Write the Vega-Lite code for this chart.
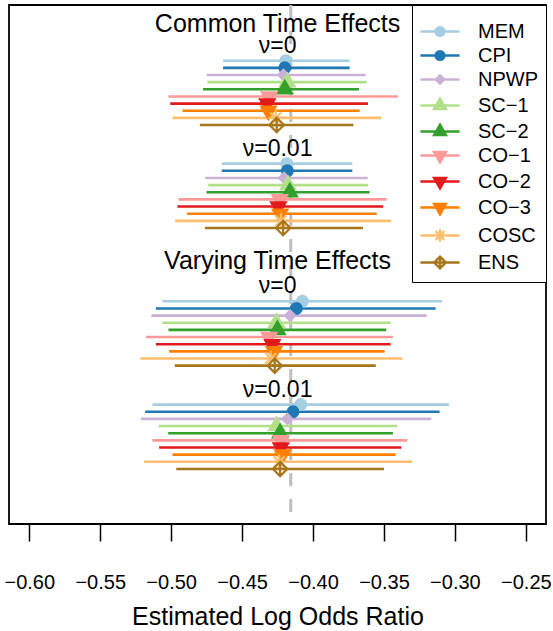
{
  "$schema": "https://vega.github.io/schema/vega-lite/v6.json",
  "width": 537,
  "height": 519,
  "autosize": {"type": "none"},
  "padding": {"left": 9, "top": 5, "right": 7, "bottom": 107},
  "config": {
    "font": "Liberation Sans",
    "view": {"stroke": "black", "strokeWidth": 1.8},
    "text": {"color": "black"}
  },
  "datasets": {
    "ref": [{"truth": -0.4157}],
    "est": [
      {"grp": "A", "method": "MEM", "row": 1, "est": -0.4192, "lo": -0.4634, "hi": -0.3742},
      {"grp": "A", "method": "CPI", "row": 2, "est": -0.4199, "lo": -0.4634, "hi": -0.3742},
      {"grp": "A", "method": "NPWP", "row": 3, "est": -0.4209, "lo": -0.4749, "hi": -0.3629},
      {"grp": "A", "method": "SC-1", "row": 4, "est": -0.4181, "lo": -0.4744, "hi": -0.3622},
      {"grp": "A", "method": "SC-2", "row": 5, "est": -0.4199, "lo": -0.4775, "hi": -0.3676},
      {"grp": "A", "method": "CO-1", "row": 6, "est": -0.4310, "lo": -0.5019, "hi": -0.3401},
      {"grp": "A", "method": "CO-2", "row": 7, "est": -0.4322, "lo": -0.5007, "hi": -0.3613},
      {"grp": "A", "method": "CO-3", "row": 8, "est": -0.4315, "lo": -0.4920, "hi": -0.3671},
      {"grp": "A", "method": "COSC", "row": 9, "est": -0.4263, "lo": -0.4991, "hi": -0.3519},
      {"grp": "A", "method": "ENS", "row": 10, "est": -0.4256, "lo": -0.4798, "hi": -0.3716},
      {"grp": "B", "method": "MEM", "row": 15.4, "est": -0.4185, "lo": -0.4643, "hi": -0.3723},
      {"grp": "B", "method": "CPI", "row": 16.4, "est": -0.4181, "lo": -0.4643, "hi": -0.3723},
      {"grp": "B", "method": "NPWP", "row": 17.4, "est": -0.4204, "lo": -0.4761, "hi": -0.3615},
      {"grp": "B", "method": "SC-1", "row": 18.4, "est": -0.4176, "lo": -0.4739, "hi": -0.3613},
      {"grp": "B", "method": "SC-2", "row": 19.4, "est": -0.4164, "lo": -0.4751, "hi": -0.3601},
      {"grp": "B", "method": "CO-1", "row": 20.4, "est": -0.4235, "lo": -0.4949, "hi": -0.3481},
      {"grp": "B", "method": "CO-2", "row": 21.4, "est": -0.4244, "lo": -0.4956, "hi": -0.3505},
      {"grp": "B", "method": "CO-3", "row": 22.4, "est": -0.4232, "lo": -0.4889, "hi": -0.3551},
      {"grp": "B", "method": "COSC", "row": 23.4, "est": -0.4227, "lo": -0.4972, "hi": -0.3449},
      {"grp": "B", "method": "ENS", "row": 24.4, "est": -0.4211, "lo": -0.4761, "hi": -0.3648},
      {"grp": "C", "method": "MEM", "row": 34.65, "est": -0.4075, "lo": -0.5061, "hi": -0.3089},
      {"grp": "C", "method": "CPI", "row": 35.65, "est": -0.4118, "lo": -0.5108, "hi": -0.3136},
      {"grp": "C", "method": "NPWP", "row": 36.65, "est": -0.4162, "lo": -0.5139, "hi": -0.3199},
      {"grp": "C", "method": "SC-1", "row": 37.65, "est": -0.4258, "lo": -0.5061, "hi": -0.3453},
      {"grp": "C", "method": "SC-2", "row": 38.65, "est": -0.4251, "lo": -0.5019, "hi": -0.3484},
      {"grp": "C", "method": "CO-1", "row": 39.65, "est": -0.4310, "lo": -0.5178, "hi": -0.3437},
      {"grp": "C", "method": "CO-2", "row": 40.65, "est": -0.4287, "lo": -0.5108, "hi": -0.3453},
      {"grp": "C", "method": "CO-3", "row": 41.65, "est": -0.4275, "lo": -0.5014, "hi": -0.3495},
      {"grp": "C", "method": "COSC", "row": 42.65, "est": -0.4298, "lo": -0.5218, "hi": -0.3371},
      {"grp": "C", "method": "ENS", "row": 43.65, "est": -0.4270, "lo": -0.4974, "hi": -0.3558},
      {"grp": "D", "method": "MEM", "row": 49.1, "est": -0.4087, "lo": -0.5132, "hi": -0.3042},
      {"grp": "D", "method": "CPI", "row": 50.1, "est": -0.4141, "lo": -0.5183, "hi": -0.3108},
      {"grp": "D", "method": "NPWP", "row": 51.1, "est": -0.4181, "lo": -0.5213, "hi": -0.3167},
      {"grp": "D", "method": "SC-1", "row": 52.1, "est": -0.4258, "lo": -0.5089, "hi": -0.3406},
      {"grp": "D", "method": "SC-2", "row": 53.1, "est": -0.4232, "lo": -0.5021, "hi": -0.3437},
      {"grp": "D", "method": "CO-1", "row": 54.1, "est": -0.4227, "lo": -0.5132, "hi": -0.3336},
      {"grp": "D", "method": "CO-2", "row": 55.1, "est": -0.4227, "lo": -0.5085, "hi": -0.3378},
      {"grp": "D", "method": "CO-3", "row": 56.1, "est": -0.4216, "lo": -0.4991, "hi": -0.3418},
      {"grp": "D", "method": "COSC", "row": 57.1, "est": -0.4239, "lo": -0.5190, "hi": -0.3301},
      {"grp": "D", "method": "ENS", "row": 58.1, "est": -0.4232, "lo": -0.4964, "hi": -0.3500}
    ],
    "titles": [
      {"txt": "Common Time Effects", "at": -0.425, "row": -2.97},
      {"txt": "Varying Time Effects", "at": -0.425, "row": 30.17}
    ],
    "nus": [
      {"txt": "ν=0", "at": -0.425, "row": -0.03},
      {"txt": "ν=0.01", "at": -0.425, "row": 14.33},
      {"txt": "ν=0", "at": -0.425, "row": 33.53},
      {"txt": "ν=0.01", "at": -0.425, "row": 47.99}
    ]
  },
  "layer": [
    {
      "data": {"name": "ref"},
      "mark": {"type": "rule", "stroke": "#BEBEBE", "strokeWidth": 3, "strokeDash": [13, 13]},
      "encoding": {
        "x": {
          "field": "truth",
          "type": "quantitative",
          "scale": {"domain": [-0.6143, -0.2358], "nice": false, "zero": false},
          "axis": {
            "values": [-0.6, -0.55, -0.5, -0.45, -0.4, -0.35, -0.3, -0.25],
            "format": ".2f",
            "domain": false,
            "grid": false,
            "tickSize": 17,
            "tickWidth": 1.5,
            "tickColor": "black",
            "labelFontSize": 20,
            "labelColor": "black",
            "labelPadding": 31,
            "labelFlush": false,
            "labelOverlap": false,
            "title": "Estimated Log Odds Ratio",
            "titleFontSize": 25,
            "titleFontWeight": "normal",
            "titleColor": "black",
            "titlePadding": 12
          }
        }
      }
    },
    {
      "data": {"name": "est"},
      "mark": {"type": "rule", "strokeWidth": 2.6},
      "encoding": {
        "x": {"field": "lo", "type": "quantitative"},
        "x2": {"field": "hi"},
        "y": {"field": "row", "type": "quantitative", "scale": {"domain": [-6.79, 65.8], "reverse": true, "nice": false, "zero": false}, "axis": null},
        "stroke": {
          "field": "method",
          "type": "nominal",
          "scale": {
            "domain": ["MEM", "CPI", "NPWP", "SC-1", "SC-2", "CO-1", "CO-2", "CO-3", "COSC", "ENS"],
            "range": ["#A6CEE3", "#1F78B4", "#CAB2D6", "#B2DF8A", "#33A02C", "#FB9A99", "#E31A1C", "#FF7F00", "#FDBF6F", "#A6761D"]
          }
        }
      }
    },
    {
      "data": {"name": "est"},
      "mark": {"type": "point", "size": 144, "strokeWidth": 2.2, "opacity": 1},
      "encoding": {
        "x": {"field": "est", "type": "quantitative"},
        "y": {"field": "row", "type": "quantitative"},
        "stroke": {
          "field": "method",
          "type": "nominal",
          "legend": {
            "title": " ",
            "titleFontSize": 1,
            "titlePadding": 7.5,
            "orient": "top-right",
            "offset": 0,
            "padding": 8,
            "strokeColor": "black",
            "fillColor": "white",
            "labelFontSize": 20,
            "labelColor": "black",
            "labelFont": "Liberation Sans",
            "symbolSize": 96,
            "symbolStrokeWidth": 2.4,
            "symbolOpacity": 1,
            "symbolOffset": 10,
            "labelOffset": 28,
            "rowPadding": 4,
            "symbolType": {"expr": "'M-4,0H4' + scale('shape', datum.value)"},
            "labelExpr": "replace(datum.label, '-', '−')"
          }
        },
        "fill": {
          "field": "method",
          "type": "nominal",
          "scale": {
            "domain": ["MEM", "CPI", "NPWP", "SC-1", "SC-2", "CO-1", "CO-2", "CO-3", "COSC", "ENS"],
            "range": ["#A6CEE3", "#1F78B4", "#CAB2D6", "#B2DF8A", "#33A02C", "#FB9A99", "#E31A1C", "#FF7F00", "transparent", "transparent"]
          }
        },
        "shape": {
          "field": "method",
          "type": "nominal",
          "scale": {
            "range": [
              "M0,1.4L1.21,-0.7L-1.21,-0.7Z",
              "M0,1.4L1.21,-0.7L-1.21,-0.7Z",
              "M0,1.4L1.21,-0.7L-1.21,-0.7Z",
              "M-0.9,-0.9L0.9,0.9M-0.9,0.9L0.9,-0.9M-1.27,0H1.27M0,-1.27V1.27",
              "M0.9,0A0.9,0.9 0 1,1 -0.9,0A0.9,0.9 0 1,1 0.9,0Z",
              "M0,-1.2L1.2,0L0,1.2L-1.2,0ZM0,-1.2V1.2M-1.2,0H1.2",
              "M0.9,0A0.9,0.9 0 1,1 -0.9,0A0.9,0.9 0 1,1 0.9,0Z",
              "M0,-0.85L0.85,0L0,0.85L-0.85,0Z",
              "M0,-1.4L1.21,0.7L-1.21,0.7Z",
              "M0,-1.4L1.21,0.7L-1.21,0.7Z"
            ]
          },
          "legend": null
        }
      }
    },
    {
      "data": {"name": "titles"},
      "mark": {"type": "text", "fontSize": 25, "align": "center", "baseline": "alphabetic"},
      "encoding": {
        "x": {"field": "at", "type": "quantitative"},
        "y": {"field": "row", "type": "quantitative"},
        "text": {"field": "txt"}
      }
    },
    {
      "data": {"name": "nus"},
      "mark": {"type": "text", "fontSize": 23, "align": "center", "baseline": "alphabetic"},
      "encoding": {
        "x": {"field": "at", "type": "quantitative"},
        "y": {"field": "row", "type": "quantitative"},
        "text": {"field": "txt"}
      }
    }
  ]
}
